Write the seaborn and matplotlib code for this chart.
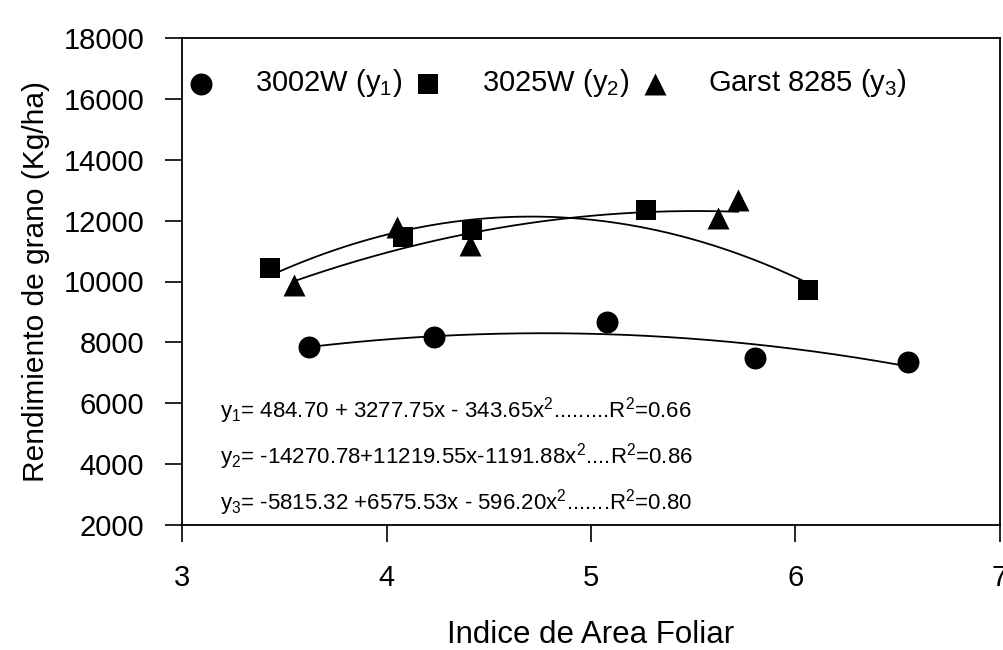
import numpy as np
import pandas as pd
import matplotlib
matplotlib.use("Agg")
import matplotlib.pyplot as plt
import seaborn as sns

# Leaf area index (x) and grain yield (kg/ha) for three hybrids
ifa_3002 = [3.62, 4.23, 5.08, 5.80, 6.55]
rend_3002 = [7860, 8170, 8680, 7480, 7340]
ifa_3025 = [3.43, 4.08, 4.42, 5.27, 6.06]
rend_3025 = [10430, 11470, 11690, 12350, 9720]
ifa_garst = [3.55, 4.05, 4.41, 5.62, 5.72]
rend_garst = [9880, 11800, 11200, 12080, 12680]

# Quadratic fits (b0, b1, b2) as reported
coef_3002 = [484.70, 3277.75, -343.65]
coef_3025 = [-14270.78, 11219.55, -1191.88]
coef_garst = [-5815.32, 6575.53, -596.20]

labels = ["3002W (y$_1$)", "3025W (y$_2$)", "Garst 8285 (y$_3$)"]
equations = [
    "y$_1$= 484.70 + 3277.75x - 343.65x$^2$.........R$^2$=0.66",
    "y$_2$= -14270.78+11219.55x-1191.88x$^2$....R$^2$=0.86",
    "y$_3$= -5815.32 +6575.53x - 596.20x$^2$.......R$^2$=0.80",
]
x_ticks = [3, 4, 5, 6, 7]
y_ticks = [2000, 4000, 6000, 8000, 10000, 12000, 14000, 16000, 18000]

sns.set_style("ticks")
plt.rcParams["font.family"] = ["Liberation Sans", "DejaVu Sans"]
plt.rcParams["mathtext.fontset"] = "custom"
plt.rcParams["mathtext.rm"] = "Liberation Sans"
plt.rcParams["mathtext.it"] = "Liberation Sans"
plt.rcParams["mathtext.default"] = "regular"
plt.rcParams["text.color"] = "black"
plt.rcParams["axes.labelcolor"] = "black"
plt.rcParams["xtick.color"] = "black"
plt.rcParams["ytick.color"] = "black"

fig = plt.figure(figsize=(10.04, 6.5), dpi=100)
ax = fig.add_axes([182 / 1004, 1 - 525 / 650, (1000 - 182) / 1004, (525 - 38) / 650])

series = [
    (ifa_3002, rend_3002, coef_3002, "o", 250),
    (ifa_3025, rend_3025, coef_3025, "s", 200),
    (ifa_garst, rend_garst, coef_garst, "^", 250),
]

for (xv, yv, coef, mk, size), lab in zip(series, labels):
    xs = np.linspace(min(xv), max(xv), 200)
    ys = coef[0] + coef[1] * xs + coef[2] * xs ** 2
    sns.lineplot(x=xs, y=ys, ax=ax, color="black", lw=1.3, legend=False)
    df = pd.DataFrame({"x": xv, "y": yv})
    sns.scatterplot(data=df, x="x", y="y", ax=ax, marker=mk, s=size,
                    color="black", edgecolor="black", linewidth=0, label=lab, zorder=3)

ax.set_xlim(3, 7)
ax.set_ylim(2000, 18000)
ax.set_xticks(x_ticks)
ax.set_yticks(y_ticks)
ax.set_xticklabels([str(v) for v in x_ticks])
ax.set_yticklabels([str(v) for v in y_ticks])
ax.tick_params(axis="both", direction="out", length=12.5, width=1.2, colors="black",
               labelsize=21)
ax.tick_params(axis="y", pad=14.6)
ax.tick_params(axis="x", pad=15.3)
for sp in ax.spines.values():
    sp.set_visible(True)
    sp.set_linewidth(1.3)
    sp.set_color("black")

ax.set_xlabel("Indice de Area Foliar", fontsize=22.5, labelpad=20.5, color="black")
ax.set_ylabel("Rendimiento de grano (Kg/ha)", fontsize=21.5, labelpad=10, color="black")

for i, eq in enumerate(equations):
    ax.text(3.186, 5745 - i * 1511, eq, fontsize=16, va="center", ha="left",
            color="black")

leg = ax.legend(loc="upper left", bbox_to_anchor=(0.006, 0.94), ncol=3, frameon=False,
                fontsize=21, handlelength=1.0, handletextpad=1.33, columnspacing=0.4,
                borderpad=0, borderaxespad=0, scatterpoints=1)
for t in leg.get_texts():
    t.set_color("black")

fig.savefig("out.png", dpi=100, facecolor="white")
